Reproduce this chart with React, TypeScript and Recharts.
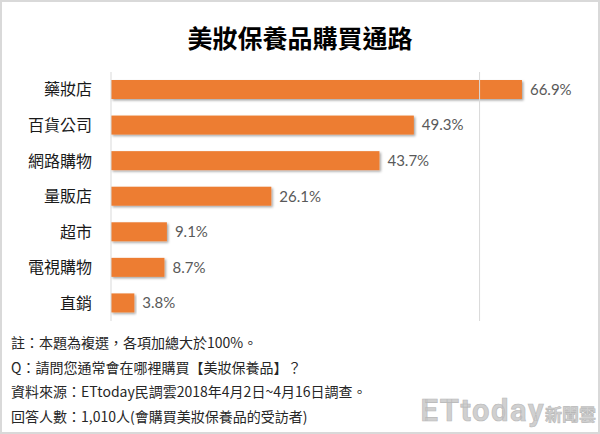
import { BarChart, Bar, XAxis, YAxis, ReferenceLine, LabelList } from 'recharts';

// 美妝保養品購買通路 (ETtoday 民調雲)
const channels = ['藥妝店', '百貨公司', '網路購物', '量販店', '超市', '電視購物', '直銷'];
const shares = [66.9, 49.3, 43.7, 26.1, 9.1, 8.7, 3.8];
const xTicks = [0, 60];
const gridAt = 60;

const title = '美妝保養品購買通路';
const notes = [
    '註：本題為複選，各項加總大於100%。',
    'Q：請問您通常會在哪裡購買【美妝保養品】？',
    '資料來源：ETtoday民調雲2018年4月2日~4月16日調查。',
    '回答人數：1,010人(會購買美妝保養品的受訪者)',
];

const data = channels.map((name, i) => ({ name, value: shares[i] }));

const cjk = '"Noto Sans CJK TC", "Noto Sans", sans-serif';

const ShadowBar = (props: any) => {
    const { x, y, width, height, fill } = props;
    if (!width || width <= 0) return null;
    return <rect x={x} y={y} width={width} height={height} fill={fill} filter="url(#barShadow)" />;
};

export default function App() {
    return (
        <div
            style={{
                position: 'absolute',
                left: 0,
                top: 0,
                width: 600,
                height: 434,
                background: '#fff',
                boxSizing: 'border-box',
                border: '2px solid #d9d9d9',
                fontFamily: cjk,
                overflow: 'hidden',
            }}
        >
            <div
                style={{
                    position: 'absolute',
                    left: 0,
                    top: 19,
                    width: 596,
                    textAlign: 'center',
                    fontSize: 25,
                    fontWeight: 700,
                    color: '#000',
                    lineHeight: '32px',
                }}
            >
                {title}
            </div>

            <div style={{ position: 'absolute', left: -2, top: -2 }}>
                <BarChart
                    width={600}
                    height={434}
                    data={data}
                    layout="vertical"
                    margin={{ top: 72, right: 59, bottom: 113, left: 0 }}
                    barCategoryGap={0}
                >
                    <defs>
                        <filter id="barShadow" x="-5%" y="-20%" width="115%" height="160%">
                            <feDropShadow dx="1.5" dy="1.5" stdDeviation="1.2" floodColor="#000" floodOpacity="0.35" />
                        </filter>
                    </defs>
                    <XAxis type="number" domain={[0, 70]} ticks={xTicks} hide />
                    <YAxis
                        type="category"
                        dataKey="name"
                        width={111}
                        axisLine={{ stroke: '#d9d9d9' }}
                        tickLine={false}
                        tickMargin={13}
                        tick={{ fontSize: 16, fill: '#1a1a1a', fontFamily: cjk }}
                    />
                    <ReferenceLine x={gridAt} stroke="#d9d9d9" strokeWidth={1} ifOverflow="extendDomain" />
                    <Bar dataKey="value" fill="#ED7D31" barSize={19} isAnimationActive={false} shape={ShadowBar}>
                        <LabelList
                            dataKey="value"
                            position="right"
                            offset={8}
                            formatter={(v: any) => `${Number(v).toFixed(1)}%`}
                            style={{ fontSize: 15, fill: '#595959', fontFamily: 'Lato, "Open Sans", sans-serif' }}
                        />
                    </Bar>
                </BarChart>
            </div>

            {notes.map((line, i) => (
                <div
                    key={i}
                    style={{
                        position: 'absolute',
                        left: 9,
                        top: 329 + i * 24.5,
                        fontSize: 14,
                        lineHeight: '22px',
                        color: '#262626',
                        whiteSpace: 'nowrap',
                    }}
                >
                    {line}
                </div>
            ))}

            <div
                style={{
                    position: 'absolute',
                    right: 2,
                    bottom: 3,
                    display: 'flex',
                    alignItems: 'baseline',
                    color: '#d0d0d0',
                    WebkitTextStroke: '0.6px #b8b8b8',
                    whiteSpace: 'nowrap',
                }}
            >
                <span style={{ fontFamily: 'Roboto, sans-serif', fontSize: 31, fontWeight: 700, letterSpacing: 1.5 }}>ETtoday</span>
                <span style={{ fontFamily: cjk, fontSize: 17, fontWeight: 700 }}>新聞雲</span>
            </div>
        </div>
    );
}
